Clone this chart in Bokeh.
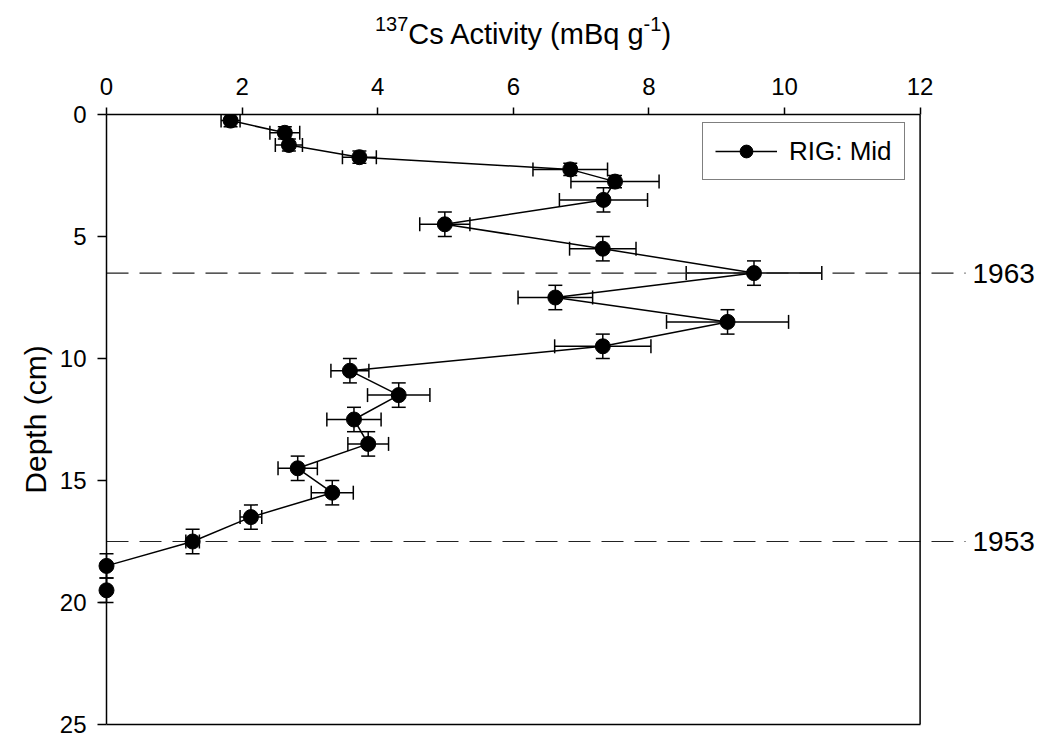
from bokeh.plotting import figure
from bokeh.models import (Range1d, LinearAxis, FixedTicker, Span, Whisker, TeeHead,
                          ColumnDataSource, Legend, LegendItem, Div)
from bokeh.layouts import column
from bokeh.core.properties import value
from bokeh.embed import file_html
from bokeh.resources import INLINE

# ---------------- data ----------------
depth = [0.25, 0.75, 1.25, 1.75, 2.25, 2.75, 3.5, 4.5, 5.5, 6.5, 7.5, 8.5,
         9.5, 10.5, 11.5, 12.5, 13.5, 14.5, 15.5, 16.5, 17.5, 18.5, 19.5]
activity = [1.83, 2.63, 2.69, 3.73, 6.84, 7.50, 7.33, 4.99, 7.32, 9.55, 6.62, 9.16,
            7.32, 3.59, 4.31, 3.65, 3.86, 2.82, 3.33, 2.13, 1.27, 0.0, 0.0]
activity_err = [0.14, 0.22, 0.20, 0.25, 0.55, 0.65, 0.65, 0.37, 0.49, 1.00, 0.55, 0.90,
                0.71, 0.28, 0.46, 0.40, 0.30, 0.29, 0.31, 0.16, 0.10, 0.0, 0.0]
depth_err = [0.25, 0.25, 0.25, 0.25, 0.25, 0.25, 0.5, 0.5, 0.5, 0.5, 0.5, 0.5,
             0.5, 0.5, 0.5, 0.5, 0.5, 0.5, 0.5, 0.5, 0.5, 0.5, 0.5]
x_ticks = [0, 2, 4, 6, 8, 10, 12]
y_ticks = [0, 5, 10, 15, 20, 25]
year_depths = [6.5, 17.5]
year_labels = ["1963", "1953"]
series_name = "RIG: Mid"
x_title_html = ('<sup style="font-size:20px;vertical-align:13px">137</sup>Cs Activity (mBq g'
                '<sup style="font-size:20px;vertical-align:13px">-1</sup>)')
y_title = "Depth (cm)"

# ---------------- layout ----------------
FONT = "Liberation Sans"
PX_X = 67.8          # px per x unit
X_AXIS_MAX = 12
Y_AXIS_MAX = 25
HEAD_H = 60          # height of the title strip above the figure
FRAME_LEFT = 97
FRAME_TOP = 114 - HEAD_H
FRAME_W = 943
FRAME_H = 610
FIG_H = 740 - HEAD_H
ORIGIN_PX = 106      # pixel column of x = 0
x_start = -(ORIGIN_PX - FRAME_LEFT) / PX_X
x_end = x_start + FRAME_W / PX_X

def px_to_x(px):
    return (px - ORIGIN_PX) / PX_X

p = figure(width=1043, height=FIG_H,
           x_range=Range1d(x_start, x_end), y_range=Range1d(Y_AXIS_MAX, 0),
           x_axis_location=None, y_axis_location=None,
           toolbar_location=None, output_backend="svg",
           min_border_left=FRAME_LEFT, min_border_right=1043 - FRAME_LEFT - FRAME_W,
           min_border_top=FRAME_TOP, min_border_bottom=FIG_H - FRAME_TOP - FRAME_H)
p.outline_line_color = None
p.grid.visible = False
p.background_fill_color = "white"
p.border_fill_color = "white"

# top axis
top = LinearAxis(bounds=(0, X_AXIS_MAX), ticker=FixedTicker(ticks=x_ticks))
top.axis_line_color = "black"
top.axis_line_width = 1.5
top.major_tick_line_color = "black"
top.major_tick_line_width = 1.5
top.major_tick_out = 7
top.major_tick_in = 0
top.minor_tick_line_color = None
top.major_label_text_font = FONT
top.major_label_text_font_size = "24px"
top.major_label_text_color = "black"
top.major_label_standoff = 13
p.add_layout(top, "above")

# bottom border line only
bottom = LinearAxis(bounds=(0, X_AXIS_MAX), ticker=FixedTicker(ticks=[]))
bottom.axis_line_color = "black"
bottom.axis_line_width = 1.5
bottom.major_tick_line_color = None
bottom.minor_tick_line_color = None
bottom.major_label_text_font_size = "0px"
p.add_layout(bottom, "below")

# left axis (ticks reach the spine at x = 0)
left = LinearAxis(ticker=FixedTicker(ticks=y_ticks))
left.axis_line_color = None
left.major_tick_line_color = "black"
left.major_tick_line_width = 1.5
left.major_tick_in = ORIGIN_PX - FRAME_LEFT
left.major_tick_out = 0
left.minor_tick_line_color = None
left.major_label_text_font = FONT
left.major_label_text_font_size = "24px"
left.major_label_text_color = "black"
left.major_label_standoff = 11
left.axis_label = y_title
left.axis_label_text_font = FONT
left.axis_label_text_font_size = "30px"
left.axis_label_text_font_style = "normal"
left.axis_label_text_color = "black"
left.axis_label_standoff = 5
p.add_layout(left, "left")

p.add_layout(Span(location=0, dimension="height", line_color="black", line_width=1.5))
p.add_layout(Span(location=X_AXIS_MAX, dimension="height", line_color="black", line_width=1.5))

# dated horizons
p.segment(x0=0, x1=px_to_x(965), y0=year_depths, y1=year_depths,
          line_color="#222222", line_width=1.2, line_dash="22 11")
p.text(x=px_to_x(972), y=year_depths, text=year_labels,
       text_font=value(FONT), text_font_size="28px", text_color="black",
       text_baseline="middle", text_align="left")

# error bars
src = ColumnDataSource(dict(
    x=activity, y=depth,
    xlo=[a - e for a, e in zip(activity, activity_err)],
    xhi=[a + e for a, e in zip(activity, activity_err)],
    ylo=[d - e for d, e in zip(depth, depth_err)],
    yhi=[d + e for d, e in zip(depth, depth_err)],
))
for kw in (dict(base="y", lower="xlo", upper="xhi", dimension="width"),
           dict(base="x", lower="ylo", upper="yhi", dimension="height")):
    w = Whisker(source=src, line_color="black", line_width=1.5,
                upper_head=TeeHead(size=14, line_color="black", line_width=1.5),
                lower_head=TeeHead(size=14, line_color="black", line_width=1.5), **kw)
    p.add_layout(w)

line_r = p.line(activity, depth, line_color="black", line_width=1.5)
pts = p.scatter(activity, depth, size=15, fill_color="black", line_color="black")

legend = Legend(items=[LegendItem(label=series_name, renderers=[line_r, pts])],
                location=(702 - FRAME_LEFT, FRAME_H - (180 - 114)),
                border_line_color="black", border_line_width=1.2,
                background_fill_color="white", background_fill_alpha=1.0,
                padding=12, margin=0, spacing=0,
                glyph_width=62, glyph_height=32, label_standoff=12,
                label_text_font=FONT, label_text_font_size="26px",
                label_text_color="black")
p.add_layout(legend)

title = Div(text=x_title_html, width=380, height=HEAD_H - 7, margin=(7, 0, 0, 333),
            styles={"font-family": FONT, "font-size": "29px", "color": "black",
                    "text-align": "center", "line-height": "34px",
                    "white-space": "nowrap"})

layout = column(title, p, spacing=0)
open("out.html", "w").write(file_html(layout, INLINE))
